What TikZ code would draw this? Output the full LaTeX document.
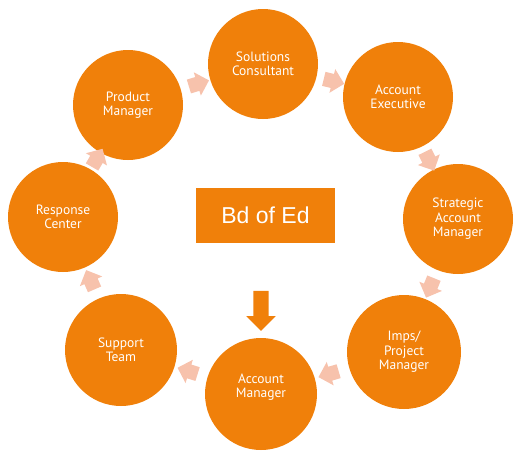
\documentclass[tikz,border=0pt]{standalone}
\usepackage{fontspec}
\setmainfont{PT Sans}
\newfontfamily\boxfont{Liberation Sans}
\usetikzlibrary{shapes.arrows}
\definecolor{edorange}{RGB}{240,128,10}
\definecolor{edpink}{RGB}{247,194,172}
\begin{document}
\begin{tikzpicture}[x=1pt, y=-1pt,
    role/.style={circle, fill=edorange, draw=none, minimum size=110pt, inner sep=0pt,
        text=white, align=center, font=\fontsize{13.5}{14.5}\selectfont},
    pointer/.style={single arrow, fill=edpink, draw=none, inner xsep=0pt, inner ysep=7pt,
        minimum height=21pt, single arrow head extend=5pt}]
        \useasboundingbox (0, 0) rectangle (515, 453);
        % the cycle
        \node[role] (sc) at (263, 64) {Solutions\\Consultant};
        \node[role] (ae) at (398, 97) {Account\\Executive};
        \node[role] (sam) at (458, 219) {Strategic\\Account\\Manager};
        \node[role, minimum size=114pt] (ipm) at (404, 352) {Imps/\\Project\\Manager};
        \node[role, minimum size=112pt] (am) at (261, 394) {};
        \node[text=white, align=center, font=\fontsize{13.5}{14.5}\selectfont]
            (amtext) at (261, 387) {Account\\Manager};
        \node[role, minimum size=112pt] (st) at (121, 350) {Support\\Team};
        \node[role] (rc) at (63, 217) {Response\\Center};
        \node[role] (pm) at (128, 105) {Product\\Manager};
        % pink arrows between the circles
        \path (pm) -- (sc) node[pointer, midway, sloped, allow upside down] (p1) {};
        \path (sc) -- (ae) node[pointer, midway, sloped, allow upside down] (p2) {};
        \path (ae) -- (sam) node[pointer, midway, sloped, allow upside down] (p3) {};
        \path (sam) -- (ipm) node[pointer, midway, sloped, allow upside down] (p4) {};
        \path (ipm) -- (am) node[pointer, midway, sloped, allow upside down] (p5) {};
        \path (am) -- (st) node[pointer, midway, sloped, allow upside down] (p6) {};
        \path (st) -- (rc) node[pointer, midway, sloped, allow upside down] (p7) {};
        \path (rc) -- (pm) node[pointer, midway, sloped, allow upside down] (p8) {};
        % the board in the middle
        \node[fill=edorange, text=white, minimum width=139pt, minimum height=55pt,
            font=\boxfont\fontsize{23}{26}\selectfont] (bd) at (265.5, 215.5) {Bd of Ed};
        \node[single arrow, fill=edorange, draw=none, inner xsep=0pt, inner ysep=7.5pt,
            rotate=-90, minimum height=40pt, single arrow head extend=7pt]
            (down) at (261, 307) {};
\end{tikzpicture}
\end{document}
